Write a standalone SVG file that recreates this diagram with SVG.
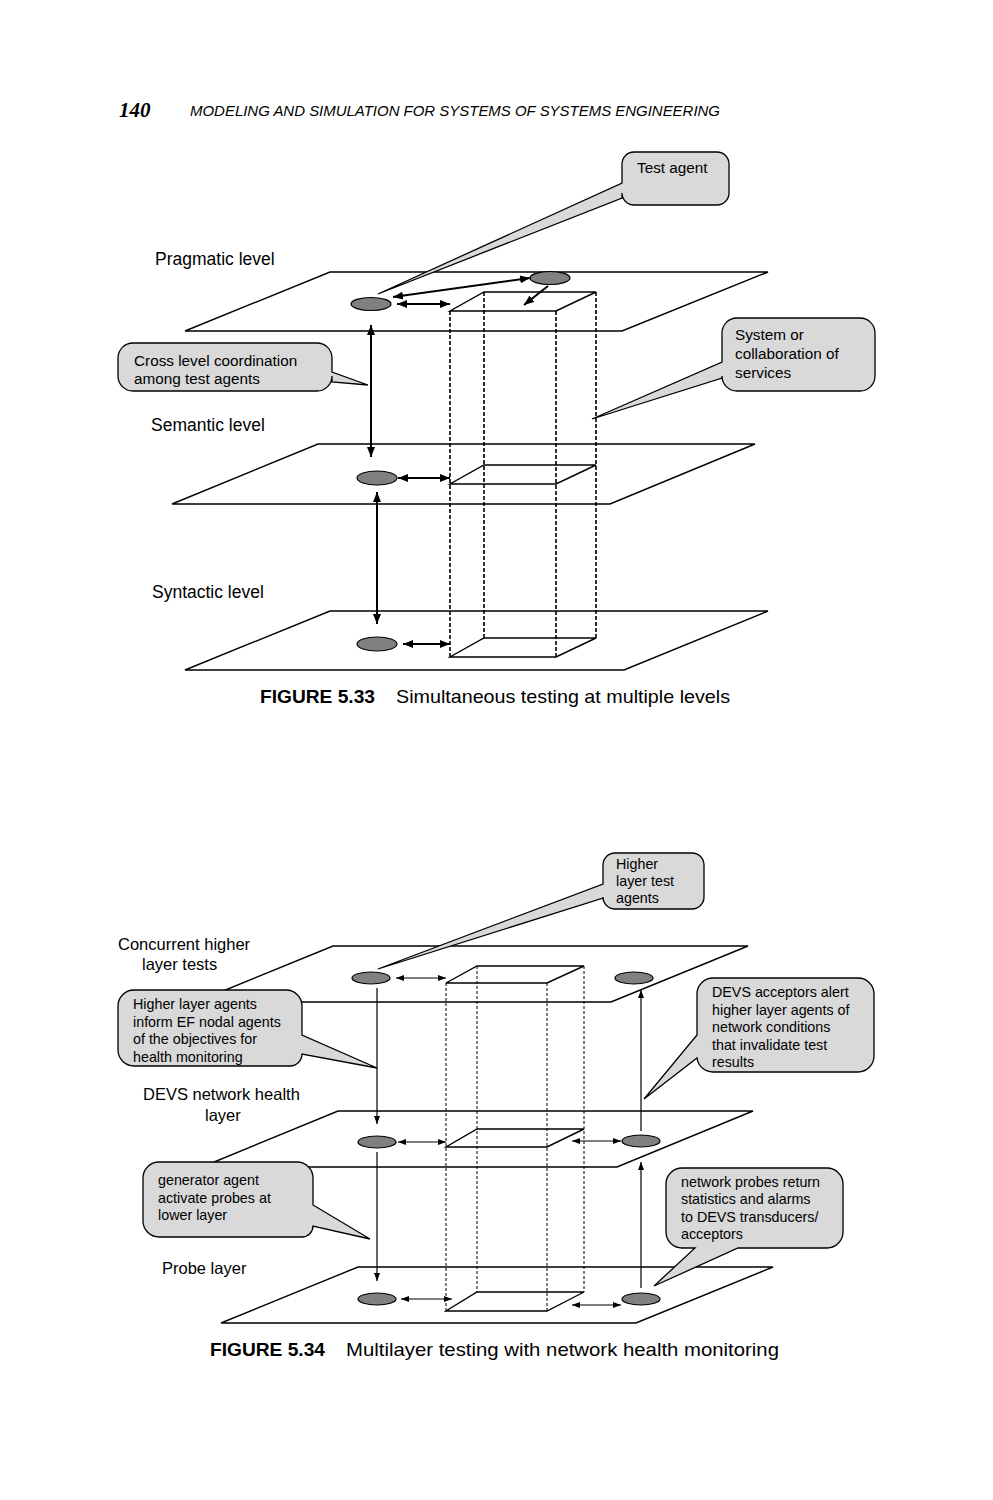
<svg xmlns="http://www.w3.org/2000/svg" width="993" height="1500" viewBox="0 0 993 1500">
<defs>
<style>
.plane{fill:none;stroke:#000;stroke-width:1.4}
.face{fill:none;stroke:#000;stroke-width:1.4}
.dash1{stroke:#000;stroke-width:1.6;stroke-dasharray:4,2;fill:none}
.dash2{stroke:#000;stroke-width:1;stroke-dasharray:3,2;fill:none}
.agent{fill:#808080;stroke:#000;stroke-width:1.2}
.callout{fill:#d9d9d9;stroke:#000;stroke-width:1.3}
.lbl{font-family:"Liberation Sans",Arial,sans-serif;font-size:17.5px;fill:#000}
.lbl2{font-family:"Liberation Sans",Arial,sans-serif;font-size:16.5px;fill:#000}
.ct{font-family:"Liberation Sans",Arial,sans-serif;font-size:15.3px;fill:#000}
.ct2{font-family:"Liberation Sans",Arial,sans-serif;font-size:14.3px;fill:#000}
.thick{stroke:#000;stroke-width:2;fill:none;marker-end:url(#ah);marker-start:url(#ah)}
.thickend{stroke:#000;stroke-width:2;fill:none;marker-end:url(#ah)}
.thin{stroke:#000;stroke-width:1.2;fill:none;marker-end:url(#as);marker-start:url(#as)}
.thinend{stroke:#000;stroke-width:1.2;fill:none;marker-end:url(#as)}
.cap{font-family:"Liberation Sans",Arial,sans-serif;font-size:19px;fill:#000}
</style>
<marker id="ah" markerUnits="userSpaceOnUse" markerWidth="10" markerHeight="8" refX="10" refY="4" orient="auto-start-reverse"><path d="M0,0 L10,4 L0,8 z" fill="#000"/></marker>
<marker id="as" markerUnits="userSpaceOnUse" markerWidth="8" markerHeight="6" refX="8" refY="3" orient="auto-start-reverse"><path d="M0,0 L8,3 L0,6 z" fill="#000"/></marker>
</defs>
<rect width="993" height="1500" fill="#fff"/>

<g id="header">
<text x="119" y="117" font-family="Liberation Serif,serif" font-size="21" font-weight="bold" font-style="italic">140</text>
<text x="190" y="116" font-family="Liberation Sans,Arial,sans-serif" font-size="15" font-style="italic" textLength="530" lengthAdjust="spacingAndGlyphs">MODELING AND SIMULATION FOR SYSTEMS OF SYSTEMS ENGINEERING</text>
</g>

<!-- FIGURE 5.33 -->
<g id="plane-pragmatic"><polygon class="plane" points="330,272 768,272 622,331 185,331"/><text class="lbl" x="155" y="265">Pragmatic level</text></g>
<g id="plane-semantic"><polygon class="plane" points="318,444 755,444 610,504 172,504"/><text class="lbl" x="151" y="431">Semantic level</text></g>
<g id="plane-syntactic"><polygon class="plane" points="330,611 768,611 624,670 185,670"/><text class="lbl" x="152" y="598">Syntactic level</text></g>

<g id="system-box">
<line class="dash1" x1="450" y1="311" x2="450" y2="657"/>
<line class="dash1" x1="556" y1="311" x2="556" y2="657"/>
<line class="dash1" x1="484" y1="292" x2="484" y2="638"/>
<line class="dash1" x1="596" y1="292" x2="596" y2="638"/>
<polygon class="face" points="450,311 556,311 596,292 484,292"/>
<polygon class="face" points="450,484 556,484 596,465 484,465"/>
<polygon class="face" points="450,657 556,657 596,638 484,638"/>
</g>

<g id="agent-prag-1"><ellipse class="agent" cx="371" cy="304" rx="20" ry="6.5"/></g>
<g id="agent-prag-2"><ellipse class="agent" cx="550" cy="278" rx="20" ry="6.5"/></g>
<g id="agent-sem"><ellipse class="agent" cx="377" cy="478" rx="20" ry="7"/></g>
<g id="agent-syn"><ellipse class="agent" cx="377" cy="644" rx="20" ry="7"/></g>

<g id="connectors-533">
<line class="thick" x1="393" y1="297" x2="530" y2="278"/>
<line class="thick" x1="397" y1="304" x2="450" y2="304"/>
<line class="thickend" x1="548" y1="286" x2="524" y2="305"/>
<line class="thick" x1="371" y1="325" x2="371" y2="457"/>
<line class="thick" x1="398" y1="478" x2="450" y2="478"/>
<line class="thick" x1="377" y1="492" x2="377" y2="624"/>
<line class="thick" x1="403" y1="644" x2="450" y2="644"/>
</g>

<g id="callout-test-agent">
<path class="callout" d="M634,152 H717 A12,12 0 0 1 729,164 V193 A12,12 0 0 1 717,205 H634 A12,12 0 0 1 622,193 V198 L378,294 L622,183 V164 A12,12 0 0 1 634,152 Z"/>
<text class="ct" x="637" y="173">Test agent</text>
</g>
<g id="callout-cross-level">
<path class="callout" d="M133,343 H317 A15,15 0 0 1 332,358 V372 L368,385 L332,382 V376 A15,15 0 0 1 317,391 H133 A15,15 0 0 1 118,376 V358 A15,15 0 0 1 133,343 Z"/>
<text class="ct" x="134" y="366">Cross level coordination</text>
<text class="ct" x="134" y="384">among test agents</text>
</g>
<g id="callout-system">
<path class="callout" d="M737,318 H860 A15,15 0 0 1 875,333 V376 A15,15 0 0 1 860,391 H737 A15,15 0 0 1 722,376 V378 L592,419 L722,362 V333 A15,15 0 0 1 737,318 Z"/>
<text class="ct" x="735" y="340">System or</text>
<text class="ct" x="735" y="359">collaboration of</text>
<text class="ct" x="735" y="378">services</text>
</g>

<g id="caption-533">
<text class="cap" x="260" y="703" font-weight="bold" textLength="115" lengthAdjust="spacingAndGlyphs">FIGURE 5.33</text>
<text class="cap" x="396" y="703" textLength="334" lengthAdjust="spacingAndGlyphs">Simultaneous testing at multiple levels</text>
</g>

<!-- FIGURE 5.34 -->
<g id="plane-concurrent"><polygon class="plane" points="333,946 748,946 611,1002 196,1002"/>
<text class="lbl2" x="118" y="950">Concurrent higher</text><text class="lbl2" x="142" y="970">layer tests</text></g>
<g id="plane-devs"><polygon class="plane" points="338,1111 753,1111 617,1167 202,1167"/>
<text class="lbl2" x="143" y="1100">DEVS network health</text><text class="lbl2" x="205" y="1121">layer</text></g>
<g id="plane-probe"><polygon class="plane" points="358,1267 773,1267 636,1323 221,1323"/>
<text class="lbl2" x="162" y="1274">Probe layer</text></g>

<g id="network-box">
<line class="dash2" x1="446" y1="983" x2="446" y2="1311"/>
<line class="dash2" x1="547" y1="983" x2="547" y2="1311"/>
<line class="dash2" x1="477" y1="966" x2="477" y2="1292"/>
<line class="dash2" x1="584" y1="966" x2="584" y2="1292"/>
<polygon class="face" points="446,983 547,983 584,966 477,966"/>
<polygon class="face" points="446,1147 547,1147 584,1129 477,1129"/>
<polygon class="face" points="446,1311 547,1311 584,1292 477,1292"/>
</g>

<g id="agent-top-left"><ellipse class="agent" cx="371" cy="978" rx="19" ry="6"/></g>
<g id="agent-top-right"><ellipse class="agent" cx="634" cy="978" rx="19" ry="6"/></g>
<g id="agent-mid-left"><ellipse class="agent" cx="377" cy="1142" rx="19" ry="6"/></g>
<g id="agent-mid-right"><ellipse class="agent" cx="641" cy="1141" rx="19" ry="6"/></g>
<g id="agent-bot-left"><ellipse class="agent" cx="377" cy="1299" rx="19" ry="6"/></g>
<g id="agent-bot-right"><ellipse class="agent" cx="641" cy="1299" rx="19" ry="6"/></g>

<g id="connectors-534">
<line class="thin" x1="396" y1="978" x2="446" y2="978"/>
<line class="thinend" x1="377" y1="988" x2="377" y2="1124"/>
<line class="thinend" x1="377" y1="1152" x2="377" y2="1281"/>
<line class="thin" x1="398" y1="1142" x2="446" y2="1142"/>
<line class="thin" x1="572" y1="1141" x2="621" y2="1141"/>
<line class="thinend" x1="641" y1="1131" x2="641" y2="990"/>
<line class="thinend" x1="641" y1="1288" x2="641" y2="1162"/>
<line class="thin" x1="401" y1="1299" x2="452" y2="1299"/>
<line class="thin" x1="572" y1="1305" x2="621" y2="1305"/>
</g>

<g id="callout-higher-agents">
<path class="callout" d="M615,853 H692 A12,12 0 0 1 704,865 V897 A12,12 0 0 1 692,909 H615 A12,12 0 0 1 603,897 V898 L378,969 L603,884 V865 A12,12 0 0 1 615,853 Z"/>
<text class="ct2" x="616" y="869">Higher</text>
<text class="ct2" x="616" y="886">layer test</text>
<text class="ct2" x="616" y="903">agents</text>
</g>
<g id="callout-inform">
<path class="callout" d="M134,990 H286 A16,16 0 0 1 302,1006 V1035 L377,1068 L302,1054 A12,12 0 0 1 290,1066 H134 A16,16 0 0 1 118,1050 V1006 A16,16 0 0 1 134,990 Z"/>
<text class="ct2" x="133" y="1009">Higher layer agents</text>
<text class="ct2" x="133" y="1027">inform EF nodal agents</text>
<text class="ct2" x="133" y="1044">of the objectives for</text>
<text class="ct2" x="133" y="1062">health monitoring</text>
</g>
<g id="callout-generator">
<path class="callout" d="M159,1162 H297 A16,16 0 0 1 313,1178 V1205 L370,1239 L313,1226 A11,11 0 0 1 302,1237 H159 A16,16 0 0 1 143,1221 V1178 A16,16 0 0 1 159,1162 Z"/>
<text class="ct2" x="158" y="1185">generator agent</text>
<text class="ct2" x="158" y="1203">activate probes at</text>
<text class="ct2" x="158" y="1220">lower layer</text>
</g>
<g id="callout-acceptors">
<path class="callout" d="M713,978 H858 A16,16 0 0 1 874,994 V1056 A16,16 0 0 1 858,1072 H713 A16,16 0 0 1 697,1058 L644,1099 L697,1035 V994 A16,16 0 0 1 713,978 Z"/>
<text class="ct2" x="712" y="997">DEVS acceptors alert</text>
<text class="ct2" x="712" y="1015">higher layer agents of</text>
<text class="ct2" x="712" y="1032">network conditions</text>
<text class="ct2" x="712" y="1050">that invalidate test</text>
<text class="ct2" x="712" y="1067">results</text>
</g>
<g id="callout-probes">
<path class="callout" d="M682,1168 H827 A16,16 0 0 1 843,1184 V1232 A16,16 0 0 1 827,1248 H738 L654,1286 L695,1248 H682 A16,16 0 0 1 666,1232 V1184 A16,16 0 0 1 682,1168 Z"/>
<text class="ct2" x="681" y="1187">network probes return</text>
<text class="ct2" x="681" y="1204">statistics and alarms</text>
<text class="ct2" x="681" y="1222">to DEVS transducers/</text>
<text class="ct2" x="681" y="1239">acceptors</text>
</g>

<g id="caption-534">
<text class="cap" x="210" y="1356" font-weight="bold" textLength="115" lengthAdjust="spacingAndGlyphs">FIGURE 5.34</text>
<text class="cap" x="346" y="1356" textLength="433" lengthAdjust="spacingAndGlyphs">Multilayer testing with network health monitoring</text>
</g>
</svg>
